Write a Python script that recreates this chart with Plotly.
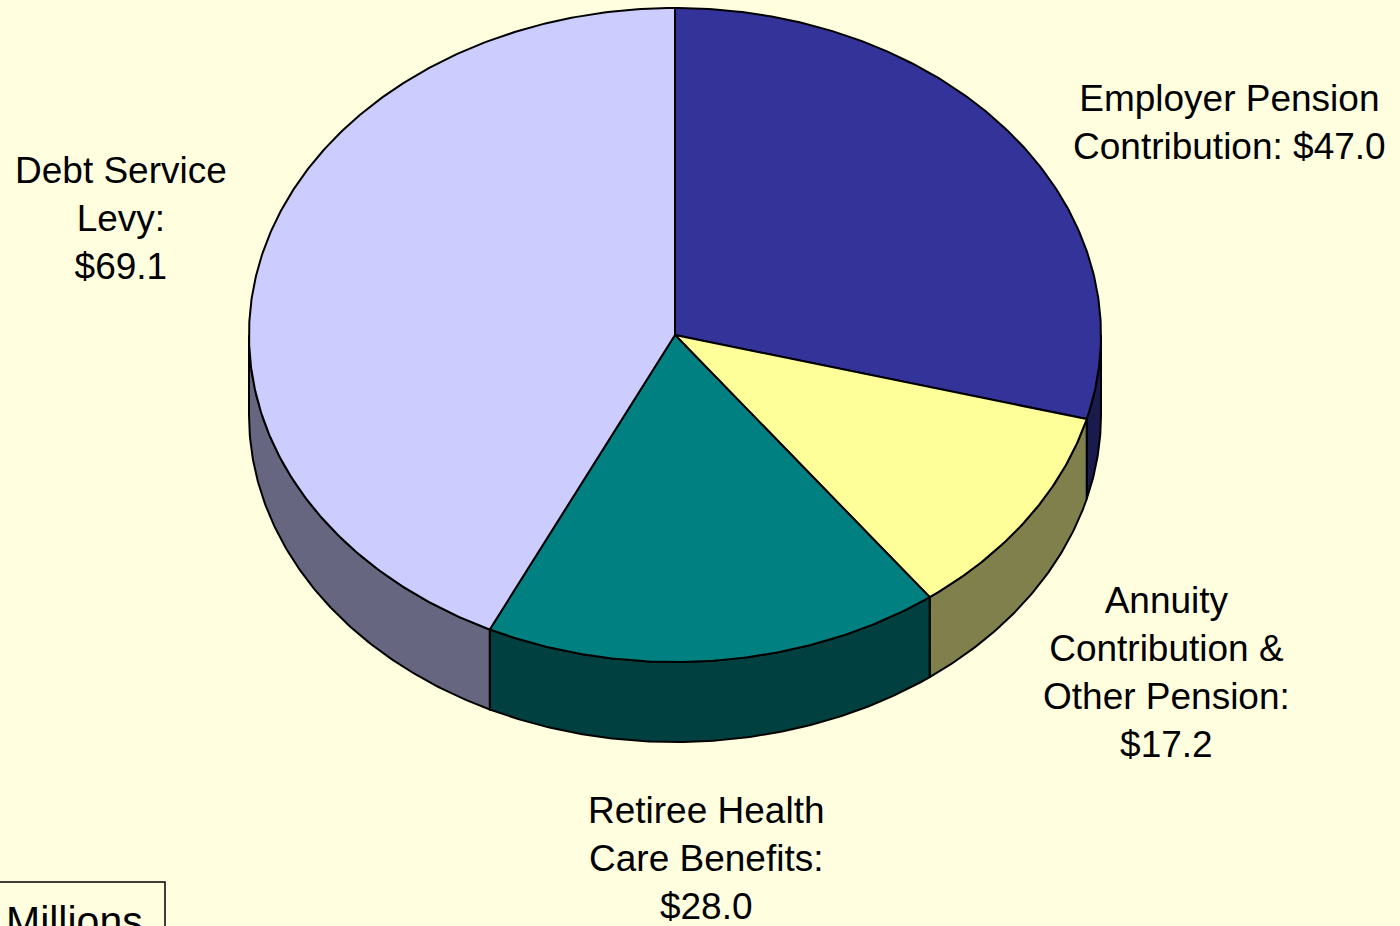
import numpy as np
import plotly.graph_objects as go

# Budget components, $ millions (clockwise from 12 o'clock)
categories = ["Employer Pension Contribution", "Annuity Contribution & Other Pension",
              "Retiree Health Care Benefits", "Debt Service Levy"]
values = [47.0, 17.2, 28.0, 69.1]
label_prefix = ["Employer Pension<br>Contribution: ",
                "Annuity<br>Contribution &<br>Other Pension:<br>",
                "Retiree Health<br>Care Benefits:<br>",
                "Debt Service<br>Levy:<br>"]

# Styling
top_colors = ["#333399", "#FFFF99", "#008080", "#CCCCFF"]
side_colors = ["#1A1A4D", "#80804C", "#004040", "#666680"]
BG = "#FFFFE0"
FONT = "Liberation Sans, Arial, sans-serif"

# Tilted pie geometry (pixel space, y grows downward)
CX, CY = 675, 335
RX, RY = 426, 327
DEPTH = 80
label_pos = [(1229, 122), (1166, 672), (706, 858), (121, 218)]


def rim(t_deg, drop=0.0):
    t = np.radians(t_deg)
    return CX + RX * np.sin(t), CY - RY * np.cos(t) + drop


total = sum(values)
bounds = np.concatenate([[0.0], np.cumsum(values) / total * 360.0])

fig = go.Figure()

# Side walls: only the front half (90°..270°) of the rim is visible
for i in range(len(values)):
    t1, t2 = max(bounds[i], 90.0), min(bounds[i + 1], 270.0)
    if t2 <= t1:
        continue
    ts = np.linspace(t1, t2, max(int((t2 - t1) * 2), 2))
    xt, yt = rim(ts)
    xb, yb = rim(ts[::-1], DEPTH)
    fig.add_trace(go.Scatter(
        x=np.concatenate([xt, xb, xt[:1]]), y=np.concatenate([yt, yb, yt[:1]]),
        mode="lines", fill="toself", fillcolor=side_colors[i],
        line=dict(color="black", width=2), hoverinfo="skip", showlegend=False))

# Top faces
for i in range(len(values)):
    t1, t2 = bounds[i], bounds[i + 1]
    ts = np.linspace(t1, t2, max(int((t2 - t1) * 2), 2))
    xa, ya = rim(ts)
    fig.add_trace(go.Scatter(
        x=np.concatenate([[CX], xa, [CX]]), y=np.concatenate([[CY], ya, [CY]]),
        mode="lines", fill="toself", fillcolor=top_colors[i],
        line=dict(color="black", width=2), name=categories[i],
        hovertemplate=f"{categories[i]}: ${values[i]:.1f}M<extra></extra>",
        showlegend=False))

# Slice labels
for i in range(len(values)):
    x, y = label_pos[i]
    fig.add_annotation(x=x, y=y, text=f"{label_prefix[i]}${values[i]:.1f}",
                       showarrow=False, xanchor="center", yanchor="middle",
                       align="center", font=dict(family=FONT, size=37, color="black"))

# Units box (runs off the lower-left corner of the page)
fig.add_shape(type="rect", x0=-5, x1=165, y0=882, y1=945,
              line=dict(color="black", width=1.5), fillcolor=BG, layer="above")
fig.add_annotation(x=74, y=921, text="Millions", showarrow=False,
                   xanchor="center", yanchor="middle",
                   font=dict(family=FONT, size=41, color="black"))

fig.update_layout(
    width=1400, height=926, margin=dict(l=0, r=0, t=0, b=0),
    paper_bgcolor=BG, plot_bgcolor=BG,
    xaxis=dict(range=[0, 1400], visible=False, fixedrange=True),
    yaxis=dict(range=[926, 0], visible=False, fixedrange=True),
)

fig.write_html("out.html")
